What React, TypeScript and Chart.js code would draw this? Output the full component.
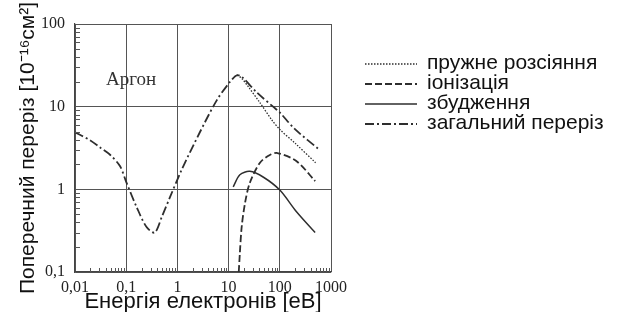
import React, { useEffect, useRef } from "react";
import { Chart, registerables } from "chart.js";

Chart.register(...registerables);

// ---- Data ----
const elasticE = [13, 14.5, 18, 25, 40, 70, 100, 200, 500];
const elasticV = [23, 24, 22, 17, 11.4, 6.9, 5.3, 3.6, 2.1];

const ionizE = [15.8, 16.5, 18, 21, 26, 41, 64, 90, 210, 490];
const ionizV = [0.1, 0.16, 0.35, 0.69, 1.2, 2.1, 2.6, 2.75, 2.2, 1.26];

const excitE = [12.3, 16.6, 26, 48, 100, 210, 490];
const excitV = [1.07, 1.5, 1.65, 1.4, 0.98, 0.54, 0.3];

const totalE = [0.01, 0.02, 0.031, 0.049, 0.076, 0.1, 0.16, 0.25, 0.36, 0.5, 0.72, 1.2, 2.7, 5.9, 10.7, 14.5, 18, 35, 74, 100, 200, 600];
const totalV = [4.9, 3.9, 3.2, 2.6, 1.9, 1.23, 0.61, 0.35, 0.3, 0.47, 0.81, 1.7, 4.8, 12, 20, 24, 23, 15, 10, 8.5, 5.3, 3.0];

const seriesLabels = ["пружне розсіяння", "іонізація", "збудження", "загальний переріз"];

const xTickValues = [0.01, 0.1, 1, 10, 100, 1000];
const xTickLabels = ["0,01", "0,1", "1", "10", "100", "1000"];
const yTickValues = [0.1, 1, 10, 100];
const yTickLabels = ["0,1", "1", "10", "100"];
const minorMultipliers = [2, 3, 4, 5, 6, 7, 8, 9];

const xTitle = "Енергія електронів [еВ]";
const yTitle = "Поперечний переріз [10⁻¹⁶см²]";
const gasLabel = "Аргон";

const toPoints = (e: number[], v: number[]) => e.map((x, i) => ({ x, y: v[i] }));

const LINE = "#2e2e2e";
const SANS = "'Liberation Sans', Arial, sans-serif";
const SERIF = "'Liberation Serif', 'Times New Roman', serif";

const extrasPlugin = {
  id: "extras",
  afterDraw(chart: any) {
    const ctx = chart.ctx;
    const xs = chart.scales.x;
    const ys = chart.scales.y;
    const area = chart.chartArea;
    ctx.save();
    // minor ticks (inward)
    ctx.strokeStyle = "#555";
    ctx.lineWidth = 1;
    ctx.beginPath();
    for (let i = 0; i < xTickValues.length - 1; i++) {
      for (const m of minorMultipliers) {
        const px = Math.round(xs.getPixelForValue(xTickValues[i] * m)) + 0.5;
        ctx.moveTo(px, area.bottom);
        ctx.lineTo(px, area.bottom - 4);
      }
    }
    for (let i = 0; i < yTickValues.length - 1; i++) {
      for (const m of minorMultipliers) {
        const py = Math.round(ys.getPixelForValue(yTickValues[i] * m)) + 0.5;
        ctx.moveTo(area.left, py);
        ctx.lineTo(area.left + 5, py);
      }
    }
    ctx.stroke();

    // gas label
    ctx.fillStyle = "#333";
    ctx.font = `19px ${SERIF}`;
    ctx.textBaseline = "middle";
    ctx.textAlign = "left";
    ctx.fillText(gasLabel, 106, 80);

    // legend
    const x0 = 365;
    const x1 = 417;
    const rowY = [63, 83, 103, 123];
    chart.data.datasets.forEach((ds: any, i: number) => {
      const y = rowY[i];
      ctx.beginPath();
      ctx.setLineDash(ds.borderDash || []);
      ctx.lineWidth = ds.borderWidth;
      ctx.strokeStyle = ds.borderColor;
      ctx.moveTo(x0, y + 1);
      ctx.lineTo(x1, y + 1);
      ctx.stroke();
      ctx.setLineDash([]);
      ctx.fillStyle = "#111";
      ctx.font = `21px ${SANS}`;
      ctx.textBaseline = "middle";
      ctx.fillText(ds.label, 427, y);
    });
    ctx.restore();
  },
};

export default function App() {
  const ref = useRef<HTMLCanvasElement | null>(null);

  useEffect(() => {
    if (!ref.current) return;
    const chart = new Chart(ref.current, {
      type: "line",
      data: {
        datasets: [
          {
            label: seriesLabels[0],
            data: toPoints(elasticE, elasticV),
            borderColor: LINE,
            borderWidth: 1.3,
            borderDash: [1.5, 1.5],
            pointRadius: 0,
            tension: 0.3,
            fill: false,
          },
          {
            label: seriesLabels[1],
            data: toPoints(ionizE, ionizV),
            borderColor: LINE,
            borderWidth: 1.8,
            borderDash: [7, 3],
            pointRadius: 0,
            tension: 0.3,
            fill: false,
          },
          {
            label: seriesLabels[2],
            data: toPoints(excitE, excitV),
            borderColor: LINE,
            borderWidth: 1.5,
            pointRadius: 0,
            tension: 0.3,
            fill: false,
          },
          {
            label: seriesLabels[3],
            data: toPoints(totalE, totalV),
            borderColor: LINE,
            borderWidth: 1.8,
            borderDash: [9, 3, 2, 3],
            pointRadius: 0,
            tension: 0.3,
            fill: false,
          },
        ],
      },
      options: {
        responsive: false,
        animation: false,
        devicePixelRatio: 1,
        layout: { padding: { left: 0, right: 291, top: 24, bottom: 0 } },
        plugins: { legend: { display: false }, tooltip: { enabled: false } },
        scales: {
          x: {
            type: "logarithmic",
            min: 0.01,
            max: 1000,
            afterFit: (s: any) => {
              s.height = 40;
            },
            afterBuildTicks: (s: any) => {
              s.ticks = xTickValues.map((v) => ({ value: v }));
            },
            ticks: {
              autoSkip: false,
              maxRotation: 0,
              padding: 6,
              color: "#222",
              font: { family: SERIF, size: 16 },
              callback: (v: any) => {
                const i = xTickValues.indexOf(Number(v));
                return i >= 0 ? xTickLabels[i] : "";
              },
            },
            grid: { color: "#555", lineWidth: 1, drawTicks: false },
            border: { color: "#444", width: 1.2 },
            title: {
              display: true,
              text: xTitle,
              color: "#111",
              font: { family: SANS, size: 22, lineHeight: 1 },
              padding: { top: 0, bottom: -1 },
            },
          },
          y: {
            type: "logarithmic",
            min: 0.1,
            max: 100,
            afterFit: (s: any) => {
              s.width = 75;
            },
            afterBuildTicks: (s: any) => {
              s.ticks = yTickValues.map((v) => ({ value: v }));
            },
            ticks: {
              autoSkip: false,
              padding: 10,
              color: "#222",
              font: { family: SERIF, size: 16 },
              callback: (v: any) => {
                const i = yTickValues.indexOf(Number(v));
                return i >= 0 ? yTickLabels[i] : "";
              },
            },
            grid: { color: "#555", lineWidth: 1, drawTicks: false },
            border: { color: "#444", width: 1.2 },
            title: {
              display: true,
              text: yTitle,
              color: "#111",
              font: { family: SANS, size: 21, lineHeight: 1 },
              padding: { top: 18, bottom: 0 },
            },
          },
        },
      },
      plugins: [extrasPlugin],
    });
    return () => chart.destroy();
  }, []);

  return (
    <div style={{ position: "fixed", left: 0, top: 0, width: 622, height: 312, background: "#fff" }}>
      <canvas ref={ref} width={622} height={312} style={{ width: 622, height: 312 }} />
    </div>
  );
}
